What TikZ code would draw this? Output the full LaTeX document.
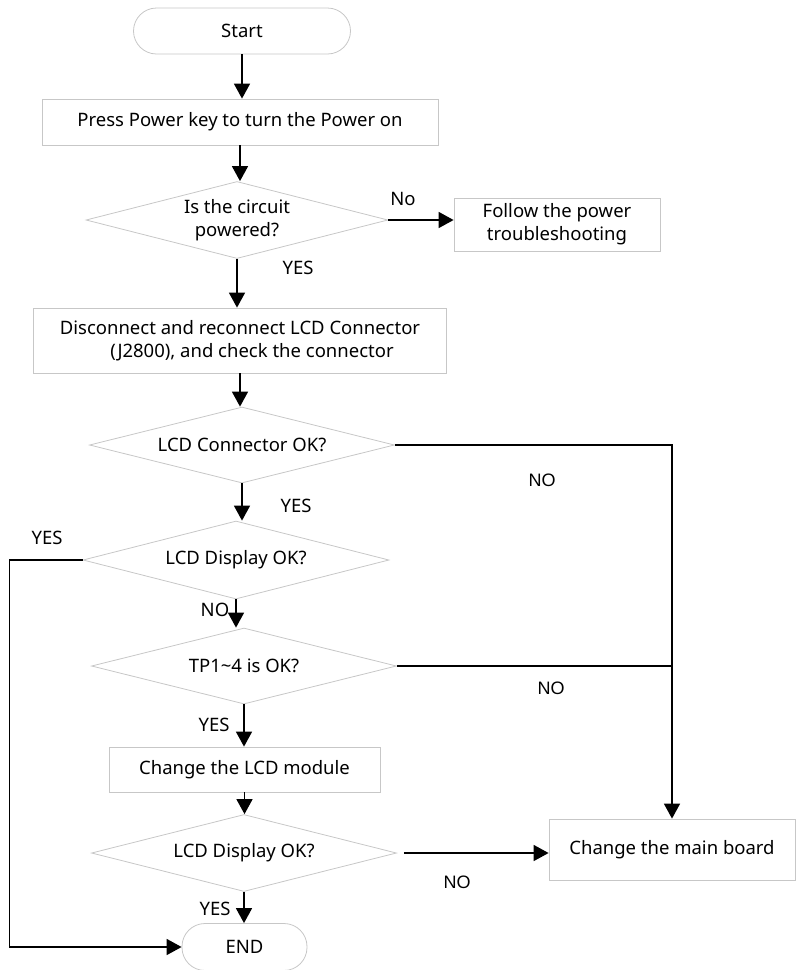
\documentclass[tikz,border=0pt]{standalone}
\usepackage{fontspec}
\setmainfont{Noto Sans}
\newfontfamily\labfont{Liberation Sans}
\usetikzlibrary{arrows.meta,shapes.geometric}
\tikzset{
  font=\fontsize{18.5}{23}\selectfont,
  >={Triangle[length=15pt,width=16pt]},
  box/.style={draw=black!22, line width=0.8pt, align=center, inner sep=0pt},
  term/.style={box, rounded corners=23pt, minimum height=46pt},
  test/.style={draw=black!22, line width=0.8pt, diamond, shape aspect=4, align=center, inner sep=0pt},
  flow/.style={draw=black, line width=1.6pt},
  lab/.style={inner sep=1pt},
  nolab/.style={font=\labfont\fontsize{18}{22}\selectfont, inner sep=1pt},
}
\begin{document}
\begin{tikzpicture}[x=1pt,y=-1pt]
\useasboundingbox (0,0) rectangle (799,970);
% main column
\node[term, minimum width=217pt] (start) at (242,31) {Start};
\node[box, minimum width=396pt, minimum height=46pt] (press) at (240,122) {Press Power key to turn the Power on};
\node[test, minimum width=302pt, minimum height=77pt] (powered) at (237,220) {Is the circuit\\powered?};
\node[box, minimum width=206pt, minimum height=53pt] (follow) at (557,224.5) {Follow the power\\troubleshooting};
\node[box, minimum width=413pt, minimum height=65pt] (reseat) at (240,340.5) {Disconnect and reconnect LCD Connector\\\hspace*{24pt}(J2800), and check the connector};
\node[test, minimum width=305pt, minimum height=76pt] (conok) at (242,445) {LCD Connector OK?};
\node[test, minimum width=306pt, minimum height=78pt] (dispok) at (236,560) {LCD Display OK?};
\node[test, minimum width=305pt, minimum height=76pt] (tpok) at (244,666) {TP1\textasciitilde4 is OK?};
\node[box, minimum width=271pt, minimum height=45pt] (lcd) at (244.5,769.5) {Change the LCD module};
\node[test, minimum width=305pt, minimum height=77pt] (dispok2) at (244,853) {LCD Display OK?};
\node[box, minimum width=246pt, minimum height=61pt] (board) at (672,849.5) {Change the main board};
\node[term, minimum width=125pt, minimum height=47pt] (stop) at (244.5,947) {END};
% branch labels
\node[lab] (no1) at (403,199) {No};
\node[lab] (yes1) at (298,268) {YES};
\node[nolab] (no2) at (542,480) {NO};
\node[lab] (yes2) at (296,506) {YES};
\node[lab] (yes3) at (47,538) {YES};
\node[lab] (no3) at (215,610) {NO};
\node[nolab] (no4) at (551,688) {NO};
\node[lab] (yes4) at (214,725) {YES};
\node[nolab] (no5) at (457,882) {NO};
\node[lab] (yes5) at (215,909) {YES};
% connectors
\draw[flow,->] (start.south) -- (start.south |- press.north);
\draw[flow,->] (press.south) -- (press.south |- powered.north);
\draw[flow,->] (powered.east) -- (powered.east -| follow.west);
\draw[flow,->] (powered.south) -- (powered.south |- reseat.north);
\draw[flow,->] (reseat.south) -- (reseat.south |- conok.north);
\draw[flow,->] (conok.east) -| (board.north);
\draw[flow,->] (conok.south) -- (conok.south |- dispok.north);
\draw[flow,->] (dispok.west) -- ++(-73,0) |- (stop.west);
\draw[flow,->] (dispok.south) -- (dispok.south |- tpok.north);
\draw[flow] (tpok.east) -- (tpok.east -| board.north);
\draw[flow,->] (tpok.south) -- (tpok.south |- lcd.north);
\draw[flow,->] (lcd.south) -- (lcd.south |- dispok2.north);
\draw[flow,->] ([xshift=7pt]dispok2.east) -- (dispok2.east -| board.west);
\draw[flow,->] (dispok2.south) -- (dispok2.south |- stop.north);
\end{tikzpicture}
\end{document}
